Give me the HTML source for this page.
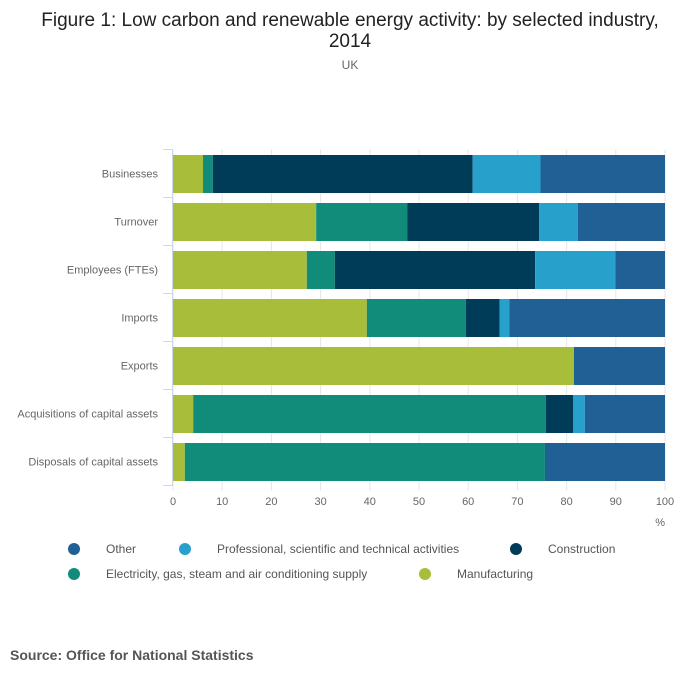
<!DOCTYPE html>
<html><head><meta charset="utf-8"><style>
body{margin:0;background:#fff;font-family:"Liberation Sans",sans-serif;}
svg text{font-family:"Liberation Sans",sans-serif;}
</style></head><body>
<svg width="700" height="682">
<text x="350" y="26" text-anchor="middle" font-size="19" fill="#222">Figure 1: Low carbon and renewable energy activity: by selected industry,</text>
<text x="350" y="47" text-anchor="middle" font-size="19" fill="#222">2014</text>
<text x="350" y="69" text-anchor="middle" font-size="12" fill="#666">UK</text>
<g id="grid"></g><g id="bars"></g><g id="axes"></g>
<text x="665" y="526" text-anchor="end" font-size="11" fill="#666">%</text>
<g id="legend"></g>
<text x="10" y="660" font-size="14" font-weight="bold" fill="#555">Source: Office for National Statistics</text>
</svg>
<script>
const categories=["Businesses","Turnover","Employees (FTEs)","Imports","Exports","Acquisitions of capital assets","Disposals of capital assets"];
const seriesNames=["Manufacturing","Electricity, gas, steam and air conditioning supply","Construction","Professional, scientific and technical activities","Other"];
const manufacturing=[6.1,29.1,27.2,39.4,81.5,4.1,2.4];
const electricity=[2.0,18.5,5.7,20.1,0,71.7,73.2];
const construction=[52.8,26.8,40.7,6.9,0,5.5,0];
const professional=[13.8,7.9,16.3,2.0,0,2.4,0];
const other=[25.3,17.7,10.1,31.6,18.5,16.3,24.4];
const xTicks=[0,10,20,30,40,50,60,70,80,90,100];
const colors=["#a8bd3a","#118c7b","#003c57","#27a0cc","#206095"];
const series=[manufacturing,electricity,construction,professional,other];
const NS="http://www.w3.org/2000/svg";
const x0=173,x1=665,yTop=149.5,band=48,barH=38;
const xs=v=>x0+(x1-x0)*v/100;
function mk(t,a,p){const e=document.createElementNS(NS,t);for(const k in a)e.setAttribute(k,a[k]);p.appendChild(e);return e;}
const grid=document.getElementById('grid'),bars=document.getElementById('bars'),axes=document.getElementById('axes'),legend=document.getElementById('legend');
xTicks.forEach(t=>{
 const g=mk('line',{x1:xs(t),x2:xs(t),y1:yTop,y2:yTop+band*categories.length,stroke:'#e6e6e6'},grid);
 
 
 const tk=mk('line',{x1:xs(t),x2:xs(t),y1:yTop+band*categories.length,y2:yTop+band*categories.length+5,stroke:'#e6e6e6'},axes);
 
 
 const l=mk('text',{x:xs(t),y:505,'text-anchor':'middle','font-size':11,fill:'#666'},axes);l.textContent=t;
 
 
});
categories.forEach((c,i)=>{
 const yb=yTop+i*band+5.5;let acc=0;
 series.forEach((s,j)=>{
  const v=s[i];if(v>0){
   const r=mk('rect',{x:xs(acc),y:yb,width:xs(acc+v)-xs(acc),height:barH,fill:colors[j]},bars);
   
   
  }acc+=v;});
 const l=mk('text',{x:158,y:yTop+i*band+band/2+4,'text-anchor':'end','font-size':11,fill:'#666'},axes);l.textContent=c;
 
 
});
for(let i=0;i<=categories.length;i++){
 const t=mk('line',{x1:163,x2:172.5,y1:yTop+i*band,y2:yTop+i*band,stroke:'#ccd6eb'},axes);
 
 
}
const ax=mk('line',{x1:172.5,x2:172.5,y1:yTop,y2:yTop+band*categories.length,stroke:'#ccd6eb'},axes);


const leg=[[4,74,549],[3,185,549],[2,516,549],[1,74,574],[0,425,574]];
leg.forEach(([k,x,y])=>{
 const c=mk('circle',{cx:x,cy:y,r:6,fill:colors[k]},legend);
 
 
 const t=mk('text',{x:x+32,y:y+4,'font-size':12,fill:'#555'},legend);t.textContent=seriesNames[k];
 
 
});
</script>
</body></html>
